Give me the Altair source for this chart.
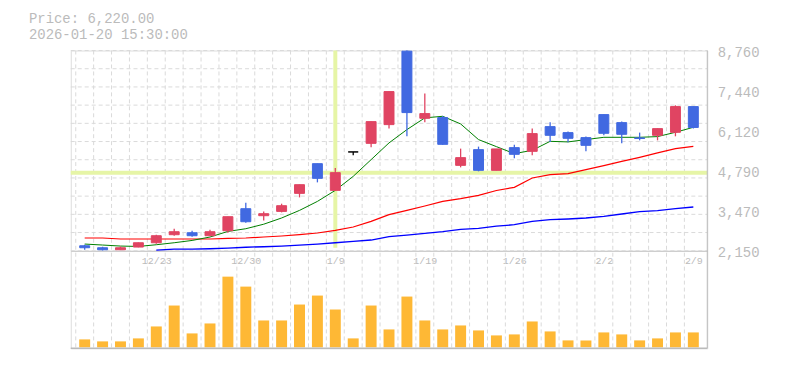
import json
import numpy as np
import pandas as pd
import altair as alt

# ---- data ----
dates = ["12/17", "12/18", "12/19", "12/22", "12/23", "12/24", "12/25", "12/26", "12/29", "12/30",
         "1/5", "1/6", "1/7", "1/8", "1/9", "1/13", "1/14", "1/15", "1/16", "1/19",
         "1/20", "1/21", "1/22", "1/23", "1/26", "1/27", "1/28", "1/29", "1/30", "2/2",
         "2/3", "2/4", "2/5", "2/6", "2/9"]
label_dates = ["12/23", "12/30", "1/9", "1/19", "1/26", "2/2", "2/9"]

opens = [2315, 2249, 2183, 2272, 2414, 2679, 2745, 2646, 2811, 3538,
         3307, 3449, 4044, 5025, 4143, 5412, 5696, 6314, 8740, 6523,
         6546, 4969, 5488, 4804, 5554, 5432, 6248, 6050, 5885, 6645,
         6380, 5875, 5961, 6060, 6909]
highs = [2348, 2282, 2292, 2420, 2679, 2877, 2811, 2844, 3274, 3736,
         3449, 3703, 4331, 5025, 4883, 5412, 6413, 7405, 8760, 7339,
         6602, 5521, 5587, 5511, 5653, 6182, 6390, 6083, 5918, 6645,
         6413, 6050, 6190, 6952, 6915]
lows = [2183, 2160, 2183, 2265, 2381, 2646, 2613, 2646, 2745, 3075,
        3151, 3416, 3912, 4407, 4143, 5300, 5564, 6182, 5928, 6390,
        5650, 4903, 4771, 4804, 5201, 5300, 5743, 5729, 5432, 5961,
        5696, 5795, 5795, 5928, 6182]
closes = [2249, 2183, 2249, 2414, 2646, 2778, 2646, 2778, 3274, 3108,
          3373, 3637, 4331, 4540, 4728, 5412, 6413, 7405, 6711, 6678,
          5663, 5224, 4804, 5511, 5333, 6017, 5961, 5862, 5630, 6027,
          5994, 5855, 6182, 6909, 6220]
volumes = [80, 60, 60, 90, 210, 420, 140, 240, 710, 610,
           270, 270, 430, 520, 380, 90, 420, 180, 510, 270,
           180, 220, 170, 120, 130, 260, 160, 70, 70, 150,
           130, 70, 90, 150, 150]
ma_short = [2371, 2338, 2305, 2292, 2348, 2414, 2490, 2603, 2788, 2877,
            3026, 3231, 3482, 3779, 4143, 4606, 5158, 5710, 6149, 6536,
            6589, 6337, 5819, 5587, 5356, 5465, 5762, 5743, 5819, 5895,
            5895, 5895, 5918, 6060, 6225]
ma_mid = [2570, 2570, 2537, 2537, 2537, 2537, 2537, 2537, 2560, 2570,
          2603, 2636, 2679, 2735, 2821, 2933, 3118, 3340, 3482, 3627,
          3779, 3869, 3978, 4140, 4242, 4553, 4662, 4695, 4827, 4959,
          5101, 5234, 5379, 5521, 5597]
ma_long = [None, None, None, None, 2173, 2200, 2206, 2216, 2239, 2266,
           2282, 2305, 2338, 2371, 2414, 2457, 2504, 2613, 2669, 2722,
           2778, 2854, 2887, 2960, 3009, 3118, 3175, 3198, 3231, 3284,
           3363, 3439, 3472, 3538, 3594]
price_ticks = [2150, 3470, 4790, 6120, 7440, 8760]
cross_index = 14
header_lines = ["Price: 6,220.00", "2026-01-20 15:30:00"]

# ---- layout / style ----
W, H_PRICE, H_ALL = 639, 201, 299
FONT = "Liberation Mono"
GREY = "#bbbbbb"
GRID = "#dadada"

n = len(dates)
df = pd.DataFrame({
    "idx": list(range(n)), "date": dates, "open": opens, "high": highs,
    "low": lows, "close": closes, "vol": volumes,
    "ma5": ma_short, "ma25": ma_mid, "ma75": ma_long,
})
df["dir"] = np.where(df["close"] > df["open"], "up",
                     np.where(df["close"] < df["open"], "down", "flat"))

xscale = alt.Scale(domain=[-0.5, n - 0.5], nice=False, zero=False)
label_idx = [dates.index(d) for d in label_dates]
xaxis = alt.Axis(values=label_idx, labelExpr=json.dumps(dates) + "[datum.value]",
                 ticks=False, grid=False, domain=True, domainColor=GREY, domainWidth=1,
                 labelFont=FONT, labelFontSize=10, labelColor=GREY, labelPadding=5,
                 labelFlush=False, labelOverlap=False, offset=-(H_ALL - H_PRICE), title=None)
X = alt.X("idx:Q", scale=xscale, axis=xaxis)

pscale = alt.Scale(domain=[price_ticks[0], price_ticks[-1]], range=[H_PRICE, 0],
                   nice=False, zero=False)
paxis = alt.Axis(orient="right", values=price_ticks, format=",.0f", ticks=False,
                 domain=False, grid=False, labelFont=FONT, labelFontSize=14,
                 labelColor=GREY, labelPadding=10, labelOffset=2, title=None)

def PY(field):
    return alt.Y(field, scale=pscale, axis=paxis)

dir_scale = alt.Scale(domain=["up", "down", "flat"],
                      range=["#e04462", "#4169e1", "#000000"])

base = alt.Chart(df)

# vertical grid at band edges (full height)
vgrid_df = pd.DataFrame({"b": [i - 0.5 for i in range(n)]})
vgrid = alt.Chart(vgrid_df).mark_rule(color=GRID, strokeDash=[4, 3], strokeWidth=1).encode(
    x=alt.X("b:Q", scale=xscale, axis=xaxis), y=alt.value(0), y2=alt.value(H_ALL))

# horizontal grid in price panel
hgrid_df = pd.DataFrame({"g": list(np.linspace(price_ticks[0], price_ticks[-1], 12))})
hgrid = alt.Chart(hgrid_df).mark_rule(color=GRID, strokeDash=[4, 3], strokeWidth=1).encode(
    y=PY("g:Q"), x=alt.value(0), x2=alt.value(W))

cross = df.iloc[[cross_index]]
cross_h = alt.Chart(cross).mark_rule(color="#e6f5a6", strokeWidth=4).encode(
    y=PY("close:Q"), x=alt.value(0), x2=alt.value(W))
cross_v = alt.Chart(cross).mark_rule(color="#e6f5a6", strokeWidth=4).encode(
    x=X, y=alt.value(0), y2=alt.value(H_PRICE - 3))

ma_l = base.mark_line(color="#0000ff", strokeWidth=1.3).encode(x=X, y=PY("ma75:Q"))
ma_m = base.mark_line(color="#ff0000", strokeWidth=1.2).encode(x=X, y=PY("ma25:Q"))
ma_s = base.mark_line(color="#008000", strokeWidth=1.0).encode(x=X, y=PY("ma5:Q"))

wicks = base.mark_rule(strokeWidth=1.3).encode(
    x=X, y=PY("low:Q"), y2="high:Q",
    color=alt.Color("dir:N", scale=dir_scale, legend=None))
bodies = base.mark_bar(width=10, strokeWidth=1).encode(
    x=X, y=PY("open:Q"), y2="close:Q",
    color=alt.Color("dir:N", scale=dir_scale, legend=None),
    stroke=alt.Stroke("dir:N", scale=dir_scale, legend=None))

price = alt.layer(vgrid, hgrid, cross_h, cross_v, ma_l, ma_m, ma_s, wicks, bodies)

vol_scale = alt.Scale(domain=[0, 980], range=[H_ALL - 1, H_PRICE - 1], nice=False)
volume = base.mark_bar(width=11, color="#feb835").encode(
    x=X, y=alt.Y("vol:Q", scale=vol_scale, axis=None))

frame_r = alt.Chart(df.iloc[[0]]).mark_rule(color=GREY, strokeWidth=1).encode(
    x=alt.value(W), y=alt.value(0), y2=alt.value(H_ALL))
frame_b = alt.Chart(df.iloc[[0]]).mark_rule(color=GREY, strokeWidth=1.5).encode(
    x=alt.value(0), x2=alt.value(W), y=alt.value(H_ALL))

head1 = alt.Chart(df.iloc[[0]]).mark_text(
    font=FONT, fontSize=14, color=GREY, align="left", baseline="alphabetic").encode(
    x=alt.value(-42), y=alt.value(-28), text=alt.value(header_lines[0]))
head2 = alt.Chart(df.iloc[[0]]).mark_text(
    font=FONT, fontSize=14, color=GREY, align="left", baseline="alphabetic").encode(
    x=alt.value(-42), y=alt.value(-12), text=alt.value(header_lines[1]))

chart = alt.layer(price, volume, frame_r, frame_b, head1, head2).resolve_scale(
    y="independent"
).properties(
    width=W, height=H_ALL,
    autosize=alt.AutoSizeParams(type="none"),
    padding={"left": 63, "top": 42, "right": 70, "bottom": 12},
).configure_view(stroke=None).configure(background="white")

chart.save("out.html", embed_options={"renderer": "svg", "actions": False})
